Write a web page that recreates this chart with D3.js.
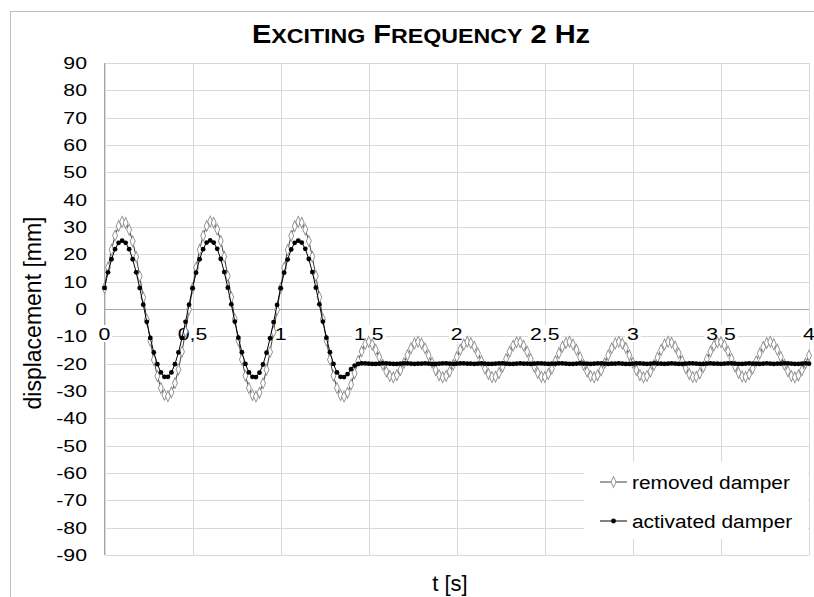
<!DOCTYPE html>
<html>
<head>
<meta charset="utf-8">
<script src="https://cdn.jsdelivr.net/npm/d3@7"></script>
<style>
  html, body { margin: 0; padding: 0; background: #fff; }
  svg { display: block; }
  text { font-family: "Liberation Sans", Arial, sans-serif; fill: #000; }
</style>
</head>
<body>
<svg id="chart" width="814" height="597"></svg>
<script>
// ---------- data ----------
const tStart = 0;      // s, first sample
const tStep = 0.02;    // s, sampling interval

const yTicks = [90, 80, 70, 60, 50, 40, 30, 20, 10, 0, -10, -20, -30, -40, -50, -60, -70, -80, -90];
const xTicks = [0, 0.5, 1, 1.5, 2, 2.5, 3, 3.5, 4];
const xTickLabels = ["0", "0,5", "1", "1,5", "2", "2,5", "3", "3,5", "4"];
const seriesNames = ["removed damper", "activated damper"];

const removedDamper = [
  7.7, 15.2, 21.7, 26.9, 30.4, 31.9, 31.5, 29.0, 24.8, 19.0, 12.0, 4.2, -3.8, -11.6, -18.6, -24.5, -28.9, -31.4, -31.9, -30.5, -27.1, -22.1, -15.6, -8.2, -0.2,
  7.6, 15.1, 21.7, 26.8, 30.4, 32.0, 31.6, 29.1, 24.9, 19.1, 12.1, 4.3, -3.7, -11.5, -18.5, -24.4, -28.9, -31.5, -32.0, -30.6, -27.2, -22.2, -15.7, -8.3, -0.3,
  7.6, 15.1, 21.6, 26.8, 30.3, 31.9, 31.6, 29.1, 24.9, 19.1, 12.1, 4.3, -3.7, -11.5, -18.5, -24.4, -28.9, -31.5, -32.0,
  -30.6, -27.6, -23.5, -19.0, -15.5, -12.8,
  -12.0, -13.0, -14.9, -17.6, -20.4, -22.9, -24.5, -25.0, -24.2, -22.3, -19.8, -16.9, -14.4, -12.6, -12.0,
  -12.6, -14.4, -16.9, -19.7, -22.3, -24.2, -25.0, -24.5, -22.9, -20.4,
  -17.6, -14.9, -13.0, -12.0, -12.4, -13.8, -16.2, -19.0, -21.8, -23.8,
  -24.9, -24.8, -23.4, -21.1, -18.3, -15.6, -13.4, -12.2, -12.2, -13.4,
  -15.6, -18.3, -21.1, -23.4, -24.8, -24.9, -23.8, -21.8, -19.0, -16.2,
  -13.8, -12.4, -12.0, -13.0, -14.9, -17.6, -20.4, -22.9, -24.5, -25.0,
  -24.2, -22.4, -19.8, -16.9, -14.4, -12.6, -12.0, -12.6, -14.3, -16.9,
  -19.7, -22.3, -24.2, -25.0, -24.5, -22.9, -20.5, -17.7, -15.0, -13.0,
  -12.0, -12.3, -13.8, -16.2, -19.0, -21.7, -23.8, -24.9, -24.8, -23.5,
  -21.2, -18.4, -15.6, -13.4, -12.2, -12.1, -13.3, -15.5, -18.2, -21.0,
  -23.3, -24.7, -24.9, -23.9, -21.8, -19.1, -16.3, -13.9, -12.4, -12.0,
  -12.9, -14.9, -17.5, -20.3, -22.8, -24.5, -25.0, -24.3, -22.4, -19.9,
  -17.0
];

const activatedDamper = [
  7.7, 13.4, 18.2, 21.9, 24.2, 25.0, 24.2, 21.9, 18.2, 13.4, 7.7, 1.6, -4.7, -10.6, -15.9, -20.2, -23.2, -24.8, -24.8, -23.2, -20.2, -15.9, -10.6, -4.7, 1.6,
  7.6, 13.3, 18.2, 21.9, 24.3, 25.1, 24.3, 22.0, 18.3, 13.5, 7.8, 1.7, -4.6, -10.5, -15.8, -20.1, -23.2, -24.8, -24.9, -23.3, -20.3, -16.0, -10.7, -4.8, 1.5,
  7.6, 13.3, 18.1, 21.8, 24.2, 25.0, 24.3, 22.0, 18.3, 13.5, 7.8, 1.7, -4.6, -10.5, -15.8, -20.1, -23.2, -24.8, -24.9,
  -23.8, -22.0, -20.7, -20.1,
  -19.9, -19.9, -20.0, -20.1, -20.1, -20.0, -19.9,
  -19.9, -20.0, -20.1, -20.1, -20.0, -19.9, -19.9, -20.0, -20.1, -20.0,
  -20.0, -19.9, -20.0, -20.1, -20.1, -20.0, -19.9, -19.9, -20.0, -20.1,
  -20.0, -19.9, -19.9, -20.0, -20.0, -20.1, -20.0, -19.9, -20.0, -20.1,
  -20.1, -20.0, -19.9, -19.9, -20.0, -20.1, -20.1, -20.0, -19.9, -20.0,
  -20.0, -20.1, -20.0, -19.9, -19.9, -20.0, -20.1, -20.0, -20.0, -19.9,
  -19.9, -20.0, -20.1, -20.1, -20.0, -19.9, -20.0, -20.0, -20.1, -20.0,
  -19.9, -19.9, -20.0, -20.1, -20.0, -20.0, -19.9, -20.0, -20.1, -20.1,
  -20.0, -19.9, -19.9, -20.0, -20.1, -20.0, -19.9, -20.0, -20.0, -20.1,
  -20.0, -19.9, -20.0, -20.1, -20.1, -20.0, -19.9, -19.9, -20.0, -20.1,
  -20.1, -20.0, -19.9, -20.0, -20.0, -20.1, -20.0, -19.9, -19.9, -20.0,
  -20.1, -20.1, -20.0, -19.9, -20.0, -20.0, -20.1, -20.0, -19.9, -20.0,
  -20.1, -20.0, -20.0, -19.9, -19.9, -20.0, -20.1, -20.1, -20.0, -19.9,
  -20.0
];

// ---------- layout ----------
const svg = d3.select("#chart");
const plot = { left: 104.5, right: 809, top: 63, bottom: 555 };

const x = d3.scaleLinear().domain([0, 4]).range([plot.left, plot.right]);
const y = d3.scaleLinear().domain([-90, 90]).range([plot.bottom, plot.top]);

const toPoints = arr => arr.map((v, i) => ({ t: tStart + i * tStep, v }));
const removedPts = toPoints(removedDamper);
const activatedPts = toPoints(activatedDamper);

// outer chart border
svg.append("rect")
  .attr("x", 10.5).attr("y", 11.5).attr("width", 830).attr("height", 620)
  .attr("fill", "#fff").attr("stroke", "#bfbfbf").attr("stroke-width", 1);

// gridlines via axes
const gridY = d3.axisLeft(y).tickValues(yTicks).tickSize(-(plot.right - plot.left)).tickFormat("");
svg.append("g").attr("transform", `translate(${plot.left},0)`).call(gridY)
  .call(g => g.select(".domain").remove())
  .call(g => g.selectAll("line").attr("stroke", "#d9d9d9").attr("shape-rendering", "crispEdges"));

const gridX = d3.axisBottom(x).tickValues(xTicks).tickSize(-(plot.bottom - plot.top)).tickFormat("");
svg.append("g").attr("transform", `translate(0,${plot.bottom})`).call(gridX)
  .call(g => g.select(".domain").remove())
  .call(g => g.selectAll("line").attr("stroke", "#d9d9d9").attr("shape-rendering", "crispEdges"));

// axis lines
svg.append("line").attr("x1", plot.left).attr("x2", plot.left).attr("y1", plot.top).attr("y2", plot.bottom)
  .attr("stroke", "#a6a6a6").attr("shape-rendering", "crispEdges");
svg.append("line").attr("x1", plot.left).attr("x2", plot.right).attr("y1", y(0)).attr("y2", y(0))
  .attr("stroke", "#a6a6a6").attr("shape-rendering", "crispEdges");

// helper for horizontally stretched text
function stext(parent, str, px, py, size, sx, anchor) {
  return parent.append("text")
    .attr("transform", `translate(${px},${py}) scale(${sx},1)`)
    .attr("font-size", size).attr("text-anchor", anchor || "start")
    .text(str);
}

// y tick labels
const yLab = svg.append("g");
yTicks.forEach(v => stext(yLab, String(v), 87, y(v) + 6, 17, 1.25, "end"));

// x tick labels (with white background, drawn under the series)
const xLab = svg.append("g");
xTicks.forEach((v, i) => {
  const lbl = xTickLabels[i];
  const t = stext(xLab, lbl, x(v), 339.5, 17, 1.25, "middle");
  const w = t.node().getComputedTextLength() * 1.25;
  xLab.insert("rect", "text")
    .attr("x", x(v) - w / 2 - 2).attr("y", 325).attr("width", w + 4).attr("height", 17)
    .attr("fill", "#fff");
});

// legend background (hides gridlines)
svg.append("rect").attr("x", 584).attr("y", 462).attr("width", 224).attr("height", 77).attr("fill", "#fff");

// series
const line = d3.line().x(d => x(d.t)).y(d => y(d.v));
const diamond = d3.symbol().type(d3.symbolDiamond).size(26);

const gRem = svg.append("g");
gRem.append("path").datum(removedPts).attr("d", line)
  .attr("fill", "none").attr("stroke", "#404040").attr("stroke-width", 1);
gRem.selectAll("path.m").data(removedPts).join("path").attr("class", "m")
  .attr("d", diamond).attr("transform", d => `translate(${x(d.t)},${y(d.v)}) scale(0.9,1.15)`)
  .attr("fill", "#fff").attr("stroke", "#8c8c8c").attr("stroke-width", 0.9);

const gAct = svg.append("g");
gAct.append("path").datum(activatedPts).attr("d", line)
  .attr("fill", "none").attr("stroke", "#000").attr("stroke-width", 1);
gAct.selectAll("circle").data(activatedPts).join("circle")
  .attr("cx", d => x(d.t)).attr("cy", d => y(d.v)).attr("r", 2.4).attr("fill", "#000");

// legend
const leg = svg.append("g");
const legRows = [489, 528];
seriesNames.forEach((name, i) => {
  const cy = legRows[i] - 7;
  leg.append("line").attr("x1", 600).attr("x2", 627).attr("y1", cy).attr("y2", cy)
    .attr("stroke", i === 0 ? "#404040" : "#000").attr("stroke-width", 1);
  if (i === 0) {
    leg.append("path").attr("d", diamond).attr("transform", `translate(613.5,${cy}) scale(0.9,1.15)`)
      .attr("fill", "#fff").attr("stroke", "#8c8c8c").attr("stroke-width", 0.9);
  } else {
    leg.append("circle").attr("cx", 613.5).attr("cy", cy).attr("r", 2.4).attr("fill", "#000");
  }
  stext(leg, name, 632, legRows[i], 19, 1.1, "start");
});

// axis titles
svg.append("text").attr("x", 450).attr("y", 591).attr("font-size", 22).attr("text-anchor", "middle").text("t [s]");
svg.append("text").attr("transform", "translate(41,313) rotate(-90)")
  .attr("font-size", 23).attr("text-anchor", "middle").text("displacement [mm]");

// title (small caps)
const title = svg.append("text")
  .attr("transform", "translate(421,43) scale(1.16,1)")
  .attr("text-anchor", "middle").attr("font-weight", "bold");
[["E", 25], ["XCITING", 20], [" F", 25], ["REQUENCY", 20], [" 2 Hz", 25]].forEach(([s, fs]) => {
  title.append("tspan").attr("font-size", fs).text(s);
});
</script>
</body>
</html>
